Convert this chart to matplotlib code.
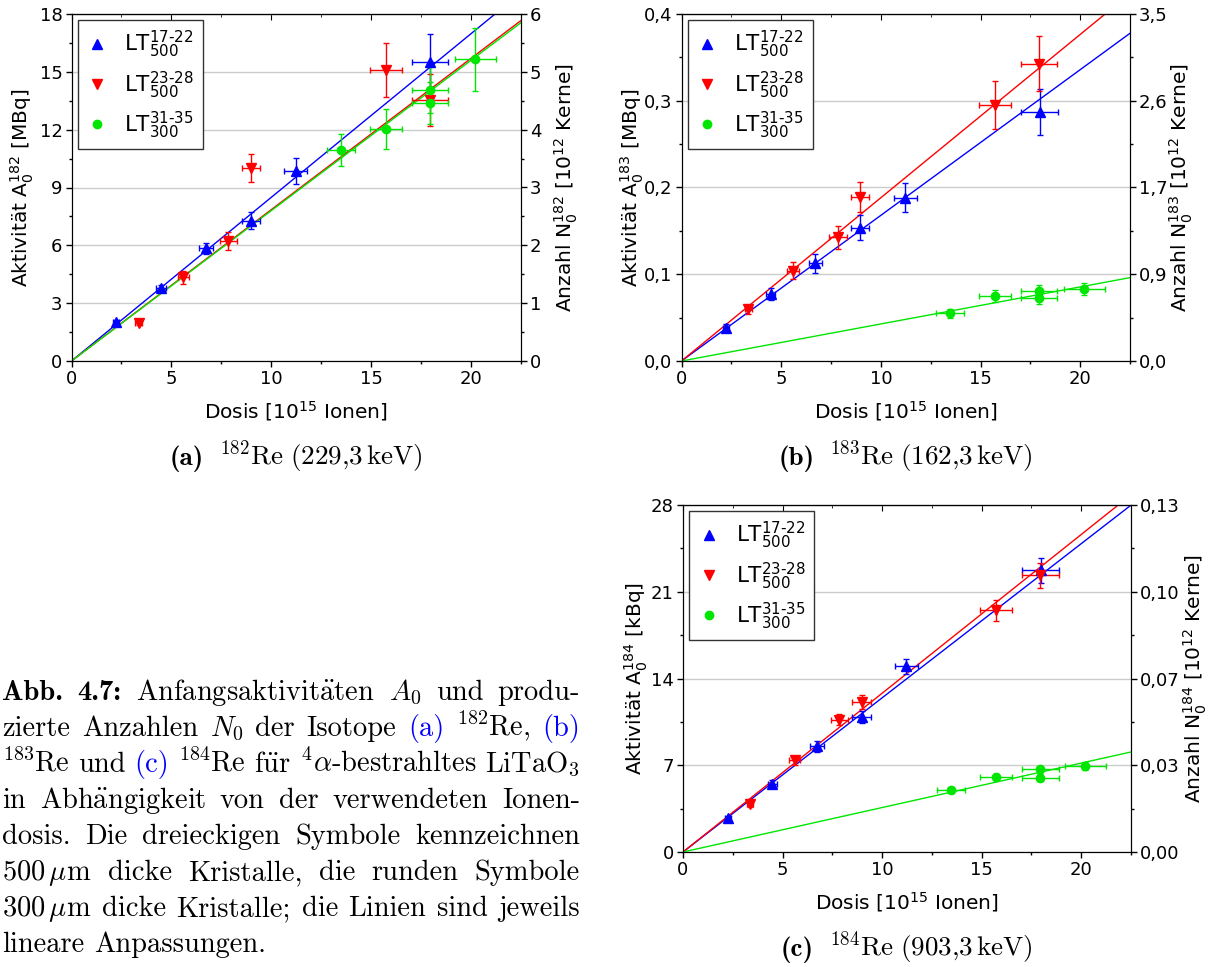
import numpy as np
import matplotlib
matplotlib.use('Agg')
import matplotlib.pyplot as plt
from matplotlib.lines import Line2D
from matplotlib.ticker import MultipleLocator, FuncFormatter

plt.rcParams['font.family'] = ['DejaVu Sans']
plt.rcParams['mathtext.fontset'] = 'dejavusans'

# Ionendosis [10^15 Ionen] der drei Kristallserien
dose_lt17 = [2.24, 4.48, 6.72, 8.97, 11.22, 17.96]
dose_lt17_err = [0.15, 0.23, 0.34, 0.46, 0.58, 0.91]
dose_lt23 = [3.36, 5.60, 7.85, 8.97, 15.73, 17.95]
dose_lt23_err = [0.17, 0.29, 0.43, 0.46, 0.80, 0.91]
dose_lt31 = [13.48, 15.73, 17.95, 17.95, 20.21]
dose_lt31_err = [0.70, 0.79, 0.91, 0.91, 1.02]

# Re-182 (229,3 keV), Aktivität in MBq
a182_lt17 = [2.00, 3.77, 5.84, 7.28, 9.86, 15.49]
a182_lt17_err = [0.12, 0.15, 0.30, 0.43, 0.66, 1.45]
a182_lt23 = [1.95, 4.34, 6.21, 10.00, 15.10, 13.54]
a182_lt23_err = [0.10, 0.33, 0.46, 0.73, 1.40, 1.37]
a182_lt31 = [10.95, 12.04, 14.06, 13.37, 15.65]
a182_lt31_err = [0.84, 1.04, 1.20, 1.10, 1.62]
slope182 = [0.849, 0.785, 0.780]

# Re-183 (162,3 keV), Aktivität in MBq
a183_lt17 = [0.0384, 0.0772, 0.1126, 0.1537, 0.1883, 0.2874]
a183_lt17_err = [0.004, 0.0067, 0.011, 0.0145, 0.017, 0.0265]
a183_lt23 = [0.0596, 0.1041, 0.1426, 0.1894, 0.2951, 0.3424]
a183_lt23_err = [0.005, 0.0098, 0.013, 0.0173, 0.0275, 0.0317]
a183_lt31 = [0.0550, 0.0749, 0.0807, 0.0722, 0.0834]
a183_lt31_err = [0.005, 0.0067, 0.0067, 0.006, 0.007]
slope183 = [0.01679, 0.01882, 0.00427]

# Re-184 (903,3 keV), Aktivität in kBq
a184_lt17 = [2.74, 5.51, 8.53, 10.89, 15.00, 22.73]
a184_lt17_err = [0.20, 0.30, 0.45, 0.50, 0.60, 1.00]
a184_lt23 = [3.90, 7.40, 10.68, 12.10, 19.50, 22.32]
a184_lt23_err = [0.25, 0.35, 0.45, 0.55, 0.85, 1.00]
a184_lt31 = [4.98, 6.05, 6.67, 6.00, 6.94]
a184_lt31_err = [0.20, 0.25, 0.30, 0.30, 0.30]
slope184 = [1.244, 1.281, 0.3587]

series_names = [r'LT$^{\text{17-22}}_{\text{500}}$',
                r'LT$^{\text{23-28}}_{\text{500}}$',
                r'LT$^{\text{31-35}}_{\text{300}}$']
series_colors = ['#0000ff', '#ff0000', '#00e600']
series_markers = ['^', 'v', 'o']
series_ms = [7, 7, 6]

right_182 = ['0', '1', '2', '3', '4', '5', '6']
right_183 = ['0,0', '0,9', '1,7', '2,6', '3,5']
right_184 = ['0,00', '0,03', '0,07', '0,10', '0,13']

caption_lines = [
    [('Abb.', 'k', 'cmb10'), ('4.7:', 'k', 'cmb10'),
     (r'$\mathrm{Anfangsaktivit\ddot{a}ten}$', 'k', None), (r'$A_0$', 'k', None),
     ('und', 'k', 'cmr10'), ('produ-', 'k', 'cmr10')],
    [('zierte', 'k', 'cmr10'), ('Anzahlen', 'k', 'cmr10'), (r'$N_0$', 'k', None),
     ('der', 'k', 'cmr10'), ('Isotope', 'k', 'cmr10'), ('(a)', 'blue', 'cmr10'),
     (r'$^{182}\mathrm{Re}{,}$', 'k', None), ('(b)', 'blue', 'cmr10')],
    [(r'$^{183}\mathrm{Re}$', 'k', None), ('und', 'k', 'cmr10'), ('(c)', 'blue', 'cmr10'),
     (r'$^{184}\mathrm{Re}$', 'k', None), (r'$\mathrm{f\ddot{u}r}$', 'k', None),
     (r'$^{4}\alpha\text{-}\mathrm{bestrahltes}$', 'k', None), (r'$\mathrm{LiTaO}_3$', 'k', None)],
    [('in', 'k', 'cmr10'), (r'$\mathrm{Abh\ddot{a}ngigkeit}$', 'k', None), ('von', 'k', 'cmr10'),
     ('der', 'k', 'cmr10'), ('verwendeten', 'k', 'cmr10'), ('Ionen-', 'k', 'cmr10')],
    [('dosis.', 'k', 'cmr10'), ('Die', 'k', 'cmr10'), ('dreieckigen', 'k', 'cmr10'),
     ('Symbole', 'k', 'cmr10'), ('kennzeichnen', 'k', 'cmr10')],
    [(r'$\mathrm{500}\,\mu\mathrm{m}$', 'k', None), ('dicke', 'k', 'cmr10'),
     ('Kristalle,', 'k', 'cmr10'), ('die', 'k', 'cmr10'), ('runden', 'k', 'cmr10'),
     ('Symbole', 'k', 'cmr10')],
    [(r'$\mathrm{300}\,\mu\mathrm{m}$', 'k', None), ('dicke', 'k', 'cmr10'),
     ('Kristalle;', 'k', 'cmr10'), ('die', 'k', 'cmr10'), ('Linien', 'k', 'cmr10'),
     ('sind', 'k', 'cmr10'), ('jeweils', 'k', 'cmr10')],
    [('lineare', 'k', 'cmr10'), ('Anpassungen.', 'k', 'cmr10')],
]

W, H = 1216, 967
fig = plt.figure(figsize=(W / 100, H / 100), dpi=100)
renderer = fig.canvas.get_renderer()


def px_rect(left, top, right, bottom):
    return [left / W, 1 - bottom / H, (right - left) / W, (bottom - top) / H]


def comma(decimals):
    return FuncFormatter(lambda v, p: f'{v:.{decimals}f}'.replace('.', ','))


def sub_caption(cx, base, label, rest, size):
    # fettes "(a)" in cmb10, Rest als Mathtext in Computer Modern
    y = 1 - base / H
    t1 = fig.text(0, y, label, family='cmb10', fontsize=size, va='baseline')
    t2 = fig.text(0, y, rest, math_fontfamily='cm', fontsize=size, va='baseline')
    w1 = t1.get_window_extent(renderer).width
    w2 = t2.get_window_extent(renderer).width
    gap = 15
    x0 = cx - (w1 + gap + w2) / 2
    t1.set_x(x0 / W)
    t2.set_x((x0 + w1 + gap) / W)


def panel(rect, acts, act_errs, slopes, ytop, ystep, ydec, ylab,
          rlabels, rlab, loff, roff, label, caption):
    ax = fig.add_axes(px_rect(*rect))
    wpx = rect[2] - rect[0]
    hpx = rect[3] - rect[1]
    doses = [dose_lt17, dose_lt23, dose_lt31]
    dose_errs = [dose_lt17_err, dose_lt23_err, dose_lt31_err]
    for x, xe, y, ye, k, c, m, ms in zip(doses, dose_errs, acts, act_errs, slopes,
                                         series_colors, series_markers, series_ms):
        ax.axline((0, 0), slope=k, color=c, lw=1, zorder=2)
        ax.errorbar(x, y, xerr=xe, yerr=ye, fmt=m, ms=ms, color=c, ecolor=c,
                    elinewidth=1, capsize=2.5, capthick=1, zorder=3)
    ax.set_xlim(0, 22.5)
    ax.set_ylim(0, ytop)
    ax.xaxis.set_major_locator(MultipleLocator(5))
    ax.xaxis.set_minor_locator(MultipleLocator(2.5))
    ax.yaxis.set_major_locator(MultipleLocator(ystep))
    ax.yaxis.set_minor_locator(MultipleLocator(ystep / 2))
    ax.yaxis.set_major_formatter(comma(ydec))
    ax.yaxis.grid(True, color='#cccccc', lw=1)
    ax.set_axisbelow(True)
    ax.tick_params(which='major', direction='out', length=4.5, width=1,
                   labelsize=13, pad=2)
    ax.tick_params(which='minor', direction='out', length=2.5, width=1)

    top = ax.secondary_xaxis('top')
    top.xaxis.set_major_locator(MultipleLocator(5))
    top.xaxis.set_minor_locator(MultipleLocator(2.5))
    top.tick_params(which='major', direction='in', length=4.5, labeltop=False)
    top.tick_params(which='minor', direction='in', length=2.5)

    ax.set_xlabel(r'Dosis [10$^{15}$ Ionen]', fontsize=14.5)
    ax.xaxis.set_label_coords(0.5, -50 / hpx)
    ax.xaxis.label.set_va('center')
    ax.set_ylabel(ylab, fontsize=14.5)
    ax.yaxis.set_label_coords(loff / wpx, 0.5)
    ax.yaxis.label.set_va('center')

    ax2 = ax.twinx()
    n = len(rlabels)
    ax2.set_ylim(0, ytop)
    ax2.set_yticks(np.linspace(0, ytop, n), rlabels)
    ax2.yaxis.set_minor_locator(MultipleLocator(ytop / (n - 1) / 2))
    ax2.tick_params(which='major', direction='out', length=4.5, width=1,
                    labelsize=13, pad=2)
    ax2.tick_params(which='minor', direction='out', length=2.5, width=1)
    ax2.set_ylabel(rlab, fontsize=14.5, rotation=90)
    ax2.yaxis.set_label_coords(1 + roff / wpx, 0.5)
    ax2.yaxis.label.set_va('center')

    handles = [Line2D([], [], ls='none', marker=m, color=c, ms=ms)
               for c, m, ms in zip(series_colors, series_markers, series_ms)]
    leg = ax.legend(handles, series_names, loc='upper left', fontsize=15.5,
                    fancybox=False, framealpha=1, edgecolor='#333333',
                    borderaxespad=0.3, handlelength=1.0, handletextpad=0.75,
                    labelspacing=0.42, borderpad=0.4)
    leg.get_frame().set_linewidth(1)
    leg.set_zorder(10)

    sub_caption((rect[0] + rect[2]) / 2, rect[3] + 104, label, caption, 19.5)
    return ax


panel((71.5, 14, 521, 361),
      [a182_lt17, a182_lt23, a182_lt31], [a182_lt17_err, a182_lt23_err, a182_lt31_err],
      slope182, 18, 3, 0, r'Aktivität A$_0^{182}$ [MBq]',
      right_182, r'Anzahl N$_0^{182}$ [10$^{12}$ Kerne]', -49.5, 45,
      '(a)', r'$^{182}\mathrm{Re}\ (229{,}3\,\mathrm{keV})$')
panel((681.5, 14, 1130, 361),
      [a183_lt17, a183_lt23, a183_lt31], [a183_lt17_err, a183_lt23_err, a183_lt31_err],
      slope183, 0.4, 0.1, 1, r'Aktivität A$_0^{183}$ [MBq]',
      right_183, r'Anzahl N$_0^{183}$ [10$^{12}$ Kerne]', -49.5, 51,
      '(b)', r'$^{183}\mathrm{Re}\ (162{,}3\,\mathrm{keV})$')
panel((683, 505, 1131, 852),
      [a184_lt17, a184_lt23, a184_lt31], [a184_lt17_err, a184_lt23_err, a184_lt31_err],
      slope184, 28, 7, 0, r'Aktivität A$_0^{184}$ [kBq]',
      right_184, r'Anzahl N$_0^{184}$ [10$^{12}$ Kerne]', -47, 64,
      '(c)', r'$^{184}\mathrm{Re}\ (903{,}3\,\mathrm{keV})$')


# Bildunterschrift im Blocksatz, Wort für Wort gesetzt
def paragraph(lines, left, right, base, step, size):
    for i, words in enumerate(lines):
        y = 1 - (base + i * step) / H
        arts = []
        for word, color, family in words:
            kw = dict(math_fontfamily='cm')
            if family:
                kw['family'] = family
            arts.append(fig.text(0, y, word, color=color, fontsize=size,
                                 va='baseline', **kw))
        widths = [a.get_window_extent(renderer).width for a in arts]
        if i == len(lines) - 1:
            gap = 0.333 * size * 100 / 72
        else:
            gap = (right - left - sum(widths)) / (len(arts) - 1)
        x = left
        for a, w in zip(arts, widths):
            a.set_x(x / W)
            x += w + gap


paragraph(caption_lines, 2, 580, 700, 36, 20.5)

fig.savefig('out.png', dpi=100)
